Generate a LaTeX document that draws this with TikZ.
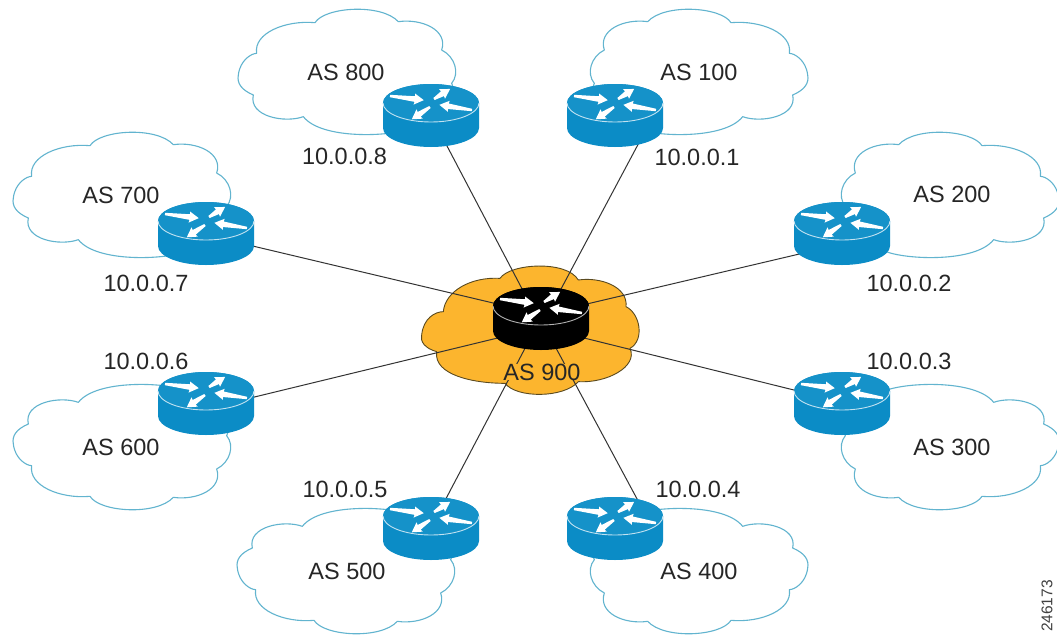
\documentclass[tikz,border=0pt]{standalone}
\usepackage{fontspec}
\setmainfont{Liberation Sans}
\usetikzlibrary{calc}
\definecolor{cloudline}{HTML}{62B4CF}
\definecolor{routerblue}{HTML}{0B8CC6}
\definecolor{routertop}{HTML}{1592C9}
\definecolor{asorange}{HTML}{FCB52E}
\definecolor{asline}{HTML}{5A4A20}
\definecolor{linkgrey}{HTML}{333333}
\definecolor{textgrey}{HTML}{262626}
\tikzset{
  whitecloud/.style={draw=cloudline,line width=1.1pt,fill=white,line join=round},
  corecloud/.style={draw=asline,line width=0.9pt,fill=asorange,line join=round},
  linkline/.style={draw=linkgrey,line width=1pt},
  routerbox/.style={minimum width=96pt,minimum height=63pt,inner sep=0pt,outer sep=0pt},
  lbl/.style={text=textgrey,font=\fontsize{23.5}{25}\selectfont,inner sep=1pt},
}
\newcommand{\rcloud}[4]{%
  \begin{scope}[shift={(#1,#2)},xscale=#3*0.33333,yscale=#4*0.33333]
    \path[whitecloud] (40,225)
      .. controls (45,180) and (80,160) .. (95,160)
      .. controls (85,100) and (180,60) .. (270,68)
      .. controls (300,20) and (470,10) .. (520,65)
      .. controls (590,55) and (670,90) .. (650,150)
      .. controls (690,170) and (705,220) .. (680,250)
      .. controls (700,290) and (660,370) .. (560,385)
      .. controls (500,410) and (290,420) .. (235,350)
      .. controls (180,370) and (70,350) .. (85,285)
      .. controls (50,270) and (35,250) .. (40,225) -- cycle;
  \end{scope}}
\newcommand{\rarrow}[5]{%
  \begin{scope}[shift={(#1,#2)},rotate=#3]
    \fill[#5] (0,-1.2) -- (#4-9,-2.8) -- (#4-9.5,-5.6) -- (#4,0) -- (#4-9.5,5.6) -- (#4-9,2.8) -- (0,1.2) -- cycle;
  \end{scope}}
\newcommand{\rrouter}[4]{% node name, body colour, top colour, edge colour
  \begin{scope}[shift={(#1.center)}]
    \fill[#2] (-48,-12.5) -- (-48,12.5) arc[start angle=180,end angle=360,x radius=48pt,y radius=19pt]
       -- (48,-12.5) arc[start angle=0,end angle=180,x radius=48pt,y radius=19pt] -- cycle;
    \fill[#3] (0,-12.5) ellipse[x radius=48pt,y radius=19pt];
    \draw[#4,line width=0.9pt] (-48,-12.5) arc[start angle=180,end angle=360,x radius=48pt,y radius=19pt];
    \rarrow{-41}{-19.5}{-7}{34}{white}
    \rarrow{3}{-16.5}{32}{19}{white}
    \rarrow{41}{-5.5}{171}{33}{white}
    \rarrow{-1}{-8.5}{214}{22}{white}
  \end{scope}}
\newcommand{\rlink}[5]{\draw[linkline] ($(#1.center)+(#2,#3)$) -- ($(core.center)+(#4,#5)$);}
\begin{document}
\begin{tikzpicture}[x=1pt,y=-1pt]
\useasboundingbox (0,0) rectangle (1057,635);
\fill[white] (0,0) rectangle (1057,635);
\begin{scope}
\clip (0,0) rectangle (1057,635);
\rcloud{225}{0}{1}{1}
\rcloud{821}{0}{-1}{1}
\rcloud{0}{123}{1}{1}
\rcloud{1072}{123}{-1}{1}
\rcloud{0}{519}{1}{-1}
\rcloud{1072}{519}{-1}{-1}
\rcloud{224}{643}{1}{-1}
\rcloud{821}{643}{-1}{-1}
\end{scope}
% AS 900 cloud
\begin{scope}[shift={(410,250)},xscale=0.33333,yscale=0.33333]
  \path[corecloud] (35,255)
    .. controls (40,205) and (75,185) .. (100,185)
    .. controls (105,125) and (180,80) .. (270,85)
    .. controls (300,40) and (470,30) .. (505,90)
    .. controls (570,80) and (655,110) .. (648,170)
    .. controls (690,190) and (705,270) .. (660,295)
    .. controls (685,350) and (590,400) .. (505,395)
    .. controls (460,445) and (320,445) .. (285,400)
    .. controls (190,400) and (70,375) .. (80,305)
    .. controls (45,295) and (30,275) .. (35,255) -- cycle;
\end{scope}
% router anchors
\node[routerbox] (r800) at (431,115.5) {};
\node[routerbox] (r100) at (615,115.5) {};
\node[routerbox] (r700) at (206,233.5) {};
\node[routerbox] (r200) at (842,233.5) {};
\node[routerbox] (r600) at (206,403.5) {};
\node[routerbox] (r300) at (842,403.5) {};
\node[routerbox] (r500) at (431,528.5) {};
\node[routerbox] (r400) at (615,528.5) {};
\node[routerbox] (core) at (541,318.5) {};
% connectors
\rlink{r800}{0}{0}{-11}{-14.5}
\rlink{r100}{31}{14}{12}{-14.5}
\rlink{r700}{34}{9.5}{-31}{-11.5}
\rlink{r200}{-32}{18}{33}{-11.5}
\rlink{r600}{34}{-3}{-31}{16.5}
\rlink{r300}{-32}{-9.5}{29}{16}
\rlink{r500}{9}{-18.5}{-9}{16.5}
\rlink{r400}{28}{-18.5}{8}{16.5}
% routers
\rrouter{r800}{routerblue}{routertop}{white!75!routerblue}
\rrouter{r100}{routerblue}{routertop}{white!75!routerblue}
\rrouter{r700}{routerblue}{routertop}{white!75!routerblue}
\rrouter{r200}{routerblue}{routertop}{white!75!routerblue}
\rrouter{r600}{routerblue}{routertop}{white!75!routerblue}
\rrouter{r300}{routerblue}{routertop}{white!75!routerblue}
\rrouter{r500}{routerblue}{routertop}{white!75!routerblue}
\rrouter{r400}{routerblue}{routertop}{white!75!routerblue}
\rrouter{core}{black}{black}{white!70!black}
% labels
\node[lbl] (as800) at (346,72) {AS 800};
\node[lbl] (as100) at (699,72) {AS 100};
\node[lbl] (as700) at (121,195) {AS 700};
\node[lbl] (as200) at (952,194) {AS 200};
\node[lbl] (as600) at (121,447) {AS 600};
\node[lbl] (as300) at (952,447) {AS 300};
\node[lbl] (as500) at (347,571) {AS 500};
\node[lbl] (as400) at (699,571) {AS 400};
\node[lbl,fill=asorange,inner sep=0pt] (as900) at (542,372) {AS 900};
\node[lbl] (ip8) at (344.5,156) {10.0.0.8};
\node[lbl] (ip1) at (697,157) {10.0.0.1};
\node[lbl] (ip7) at (146,283) {10.0.0.7};
\node[lbl] (ip2) at (909,283) {10.0.0.2};
\node[lbl] (ip6) at (146,361) {10.0.0.6};
\node[lbl] (ip3) at (909,361) {10.0.0.3};
\node[lbl] (ip5) at (345,489) {10.0.0.5};
\node[lbl] (ip4) at (698,489) {10.0.0.4};
\node[text=black!75,font=\fontsize{15.5}{16}\selectfont,rotate=90,inner sep=0pt] (fig) at (1047,606) {246173};
\end{tikzpicture}
\end{document}
